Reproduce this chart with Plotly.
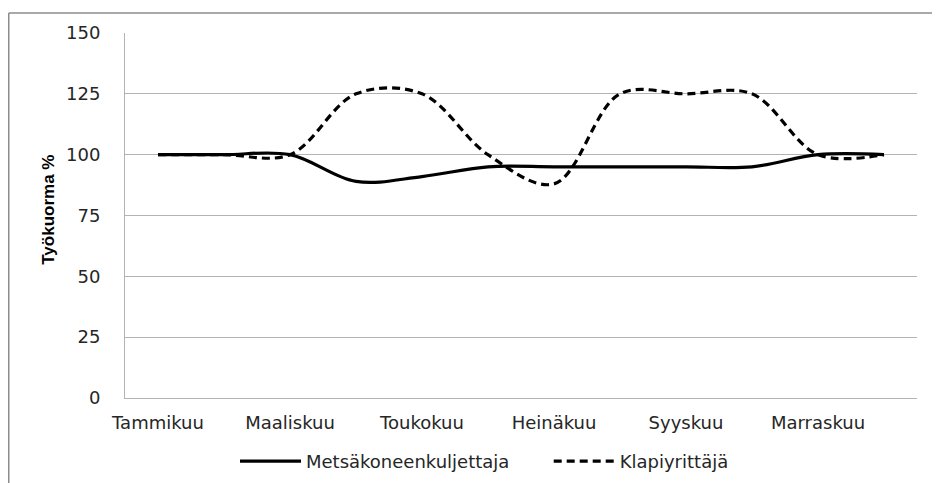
import plotly.graph_objects as go

# kuukaudet (x-akseli), joka toinen näytetään nimellä
months = ['Tammikuu', 'Helmikuu', 'Maaliskuu', 'Huhtikuu', 'Toukokuu', 'Kesäkuu',
          'Heinäkuu', 'Elokuu', 'Syyskuu', 'Lokakuu', 'Marraskuu', 'Joulukuu']
shown_months = months[::2]

# työkuorma % kuukausittain
metsakone = [100, 100, 100, 89, 91, 95, 95, 95, 95, 95, 100, 100]
klapi = [100, 100, 100, 125, 125, 100, 88, 125, 125, 125, 100, 100]

y_ticks = [0, 25, 50, 75, 100, 125, 150]

font_main = 'DejaVu Sans, Open Sans, sans-serif'
grid_col = '#b3b3b3'
pad = '\u00a0' * 6  # väli selitteen kohtien väliin

# sivun body-marginaali (8 px) huomioitu: kuva 932x475
W, H = 932, 475
L, R, T, B = 117, 23, 25, 84.5
pw, ph = W - L - R, H - T - B


def px_x(x):
    return (x - L) / pw


def px_y(y):
    return (H - B - y) / ph


fig = go.Figure()

fig.add_trace(go.Scatter(
    x=months, y=metsakone,
    mode='lines',
    name='Metsäkoneenkuljettaja' + pad,
    line=dict(color='black', width=3.2, shape='spline', smoothing=1)
))

fig.add_trace(go.Scatter(
    x=months, y=klapi,
    mode='lines',
    name='Klapiyrittäjä',
    line=dict(color='black', width=3.2, dash='8px,5px', shape='spline', smoothing=1)
))

fig.update_layout(
    width=W, height=H,
    margin=dict(l=L, r=R, t=T, b=B, autoexpand=False),
    paper_bgcolor='white',
    plot_bgcolor='white',
    font=dict(family=font_main, size=18, color='#262626'),
    showlegend=True,
    legend=dict(
        orientation='h',
        x=px_x(227), xanchor='left',
        y=px_y(454), yanchor='middle',
        font=dict(size=18),
        itemwidth=61,
    ),
    xaxis=dict(
        type='category',
        categoryorder='array', categoryarray=months,
        range=[-0.5, 11.5],
        tickvals=shown_months,
        showgrid=False,
        showline=True, linecolor=grid_col, linewidth=1,
        ticks='',
        ticklabelstandoff=8,
        zeroline=False,
    ),
    yaxis=dict(
        range=[0, 150],
        tickvals=y_ticks,
        showgrid=True, gridcolor=grid_col, gridwidth=1,
        showline=True, linecolor=grid_col, linewidth=1,
        ticks='',
        ticklabelstandoff=20,
        zeroline=False,
    ),
    annotations=[dict(
        text='<b>Työkuorma %</b>',
        textangle=-90,
        xref='paper', yref='paper',
        x=px_x(41), y=px_y(202),
        xanchor='center', yanchor='middle',
        showarrow=False,
        font=dict(family='Liberation Sans, sans-serif', size=17, color='black'),
    )],
    shapes=[
        # kaavioalueen reunus (ylä- ja vasen reuna)
        dict(type='line', xref='paper', yref='paper',
             x0=px_x(0.75), x1=px_x(W + 5),
             y0=px_y(5), y1=px_y(5),
             line=dict(color='#8c8c8c', width=1.5)),
        dict(type='line', xref='paper', yref='paper',
             x0=px_x(0.75), x1=px_x(0.75),
             y0=px_y(5), y1=px_y(H + 5),
             line=dict(color='#8c8c8c', width=1.5)),
    ],
)

fig.write_html('out.html')
